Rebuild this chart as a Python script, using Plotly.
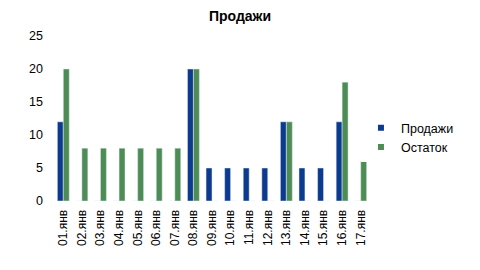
import plotly.graph_objects as go

categories = ["01.янв","02.янв","03.янв","04.янв","05.янв","06.янв","07.янв","08.янв","09.янв",
              "10.янв","11.янв","12.янв","13.янв","14.янв","15.янв","16.янв","17.янв"]
sales = [12,0,0,0,0,0,0,20,5,5,5,5,12,5,5,12,0]
stock = [20,8,8,8,8,8,8,20,0,0,0,0,12,0,0,18,6]
y_ticks = [0,5,10,15,20,25]
series_names = ["Продажи", "Остаток"]
colors = ["#0B3A8E", "#4E8C55"]

fig = go.Figure()
for vals, name, col in zip([sales, stock], series_names, colors):
    fig.add_trace(go.Bar(x=categories, y=vals, name=name, marker_color=col, showlegend=False))
# legend entries with small square markers
for name, col in zip(series_names, colors):
    fig.add_trace(go.Scatter(x=[None], y=[None], mode="markers", name=name,
                             marker=dict(symbol="square", size=6, color=col)))

fig.update_layout(
    width=480, height=270,
    margin=dict(l=54, r=110, t=36, b=69, autoexpand=False),
    paper_bgcolor="white", plot_bgcolor="white",
    font=dict(family="Liberation Sans, Arial, sans-serif", size=12, color="#000"),
    title=dict(text="<b>Продажи</b>", x=0.5, xanchor="center", y=0.94, yanchor="middle",
               font=dict(size=14)),
    barmode="group", bargap=0.36, bargroupgap=0,
    showlegend=True,
    legend=dict(xref="container", yref="container", x=0.752, y=0.49,
                xanchor="left", yanchor="middle", font=dict(size=12.5),
                tracegroupgap=0, itemwidth=30, itemclick=False),
)
fig.update_xaxes(tickangle=-90, showgrid=False, showline=False, ticks="outside", ticklen=3,
                 tickcolor="rgba(0,0,0,0)", tickfont=dict(size=12))
fig.update_yaxes(range=[0,25], tickvals=y_ticks, showgrid=False, zeroline=False, showline=False,
                 ticks="", tickfont=dict(size=12.5), ticklabelstandoff=10)

fig.write_html("out.html")
